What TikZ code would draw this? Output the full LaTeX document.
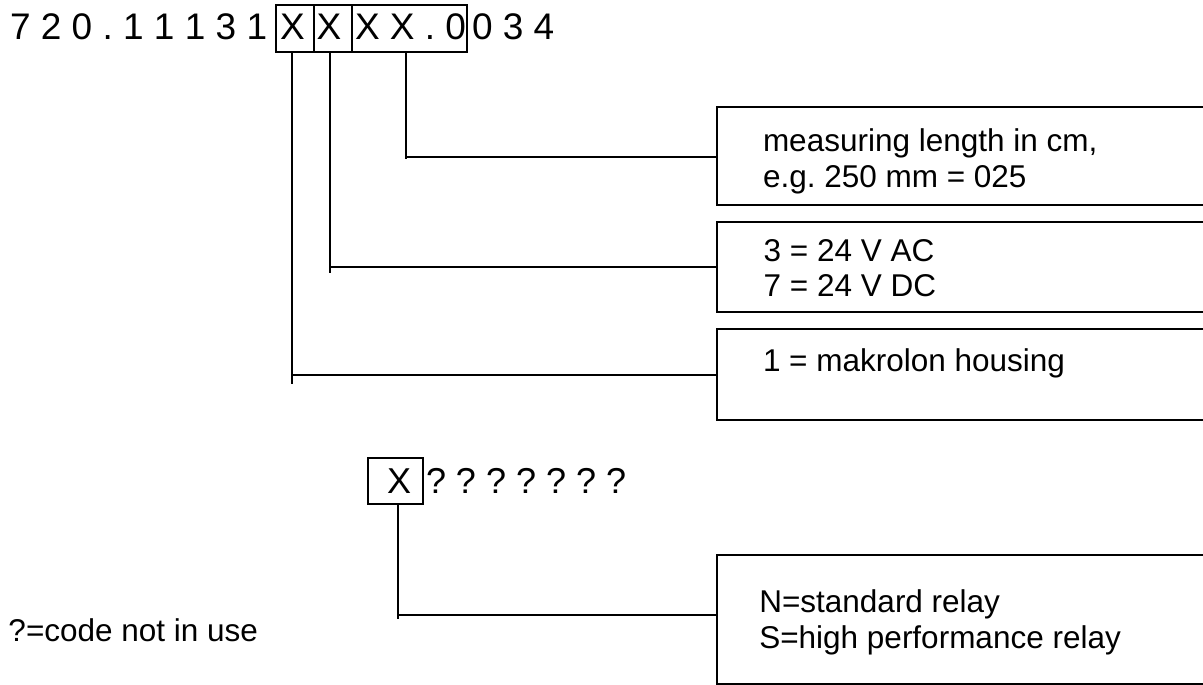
\documentclass[tikz,border=0pt]{standalone}
\usepackage{fontspec}
\setmainfont{Liberation Sans}
\frenchspacing
\begin{document}
\begin{tikzpicture}[x=1pt,y=-1pt,line width=2pt,
  codefont/.style={font=\fontsize{37}{44}\selectfont},
  boxfont/.style={font=\fontsize{31.5}{35.5}\selectfont},
  relfont/.style={font=\fontsize{36}{42}\selectfont},
  txt/.style={inner sep=0pt,outer sep=0pt,anchor=base west,align=left},
  cbox/.style={draw,inner sep=0pt,outer sep=0pt},
  conn/.style={draw,line width=2pt}]
\useasboundingbox (0,0) rectangle (1203,685);
\clip (0,0) rectangle (1203,685);

% top code line
\node[txt,codefont] (pre) at (10,40) {7 2 0 . 1 1 1 3 1};
\node[cbox,minimum width=38.3pt,minimum height=47pt] (b1) at (295.15,28.2) {};
\node[cbox,minimum width=37.7pt,minimum height=47pt] (b2) at (333.15,28.2) {};
\node[cbox,minimum width=114.7pt,minimum height=47pt] (b3) at (409.35,28.2) {};
\node[txt,codefont] (x1) at (280,40) {X};
\node[txt,codefont] (x2) at (316.5,40) {X};
\node[txt,codefont] (x3) at (355,40) {X X . 0};
\node[txt,codefont] (post) at (472,40) {0 3 4};

% right boxes
\node[cbox,minimum width=498.3pt,minimum height=98.6pt] (r1) at (965.85,156) {};
\node[cbox,minimum width=498.3pt,minimum height=90.3pt] (r2) at (965.85,266.85) {};
\node[cbox,minimum width=498.3pt,minimum height=90.7pt] (r3) at (965.85,374.65) {};
\node[cbox,minimum width=498.3pt,minimum height=129pt] (r4) at (965.85,619.5) {};

\node[txt,boxfont] (t1) at (763,187) {measuring length in cm,\\e.g. 250 mm = 025};
\node[txt,boxfont] (t2) at (763.7,296.7) {3 = 24 V AC\\7 = 24 V DC};
\node[txt,boxfont] (t3) at (763,371.7) {1 = makrolon housing};
\node[txt,boxfont] (t4) at (759.3,648.3) {N=standard relay\\S=high performance relay};

% relay code line
\node[cbox,minimum width=54.4pt,minimum height=46pt] (bx) at (395.5,481.3) {};
\node[txt,relfont] (xr) at (387,493.3) {X};
\node[txt,relfont] (qs) at (426,493.3) {? ? ? ? ? ? ?};

\node[txt,boxfont] (note) at (8.5,641.7) {?=code not in use};

% connectors
\coordinate (e1) at (292.3,384);
\coordinate (h1) at (292.3,375);
\coordinate (e2) at (330,273);
\coordinate (h2) at (330,267.3);
\coordinate (e3) at (405.7,159);
\coordinate (h3) at (405.7,157.3);
\coordinate (e4) at (398.3,619.3);
\coordinate (h4) at (398.3,615.3);

\draw[conn] (e1 |- b1.south) -- (e1);
\draw[conn] (h1) -- (h1 -| r3.west);
\draw[conn] (e2 |- b2.south) -- (e2);
\draw[conn] (h2) -- (h2 -| r2.west);
\draw[conn] (e3 |- b3.south) -- (e3);
\draw[conn] (h3) -- (h3 -| r1.west);
\draw[conn] (e4 |- bx.south) -- (e4);
\draw[conn] (h4) -- (h4 -| r4.west);
\end{tikzpicture}
\end{document}
